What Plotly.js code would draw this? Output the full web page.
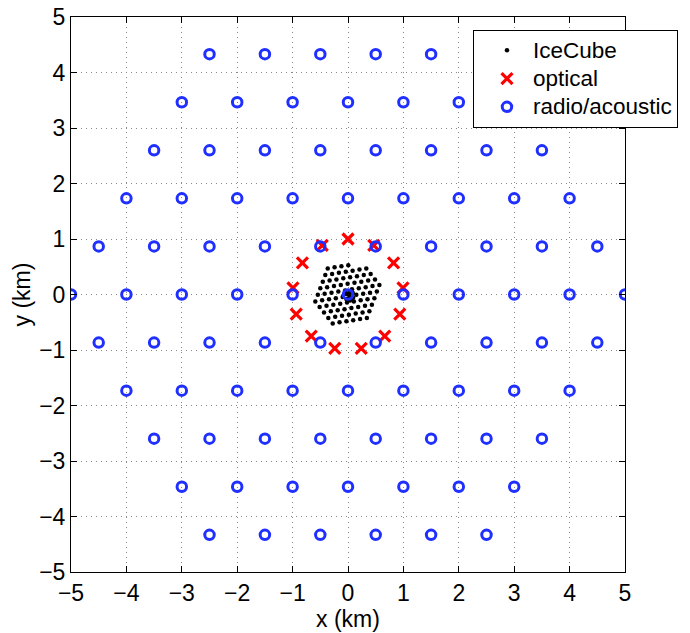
<!DOCTYPE html>
<html>
<head>
<meta charset="utf-8">
<script src="https://cdn.plot.ly/plotly-3.0.1.min.js"></script>
<style>html,body{margin:0;padding:0;background:#fff;}#chart{width:690px;height:633px;}</style>
</head>
<body>
<div id="chart"></div>
<script>
// IceCube string positions (km) (hexagonal array + DeepCore)
const iceX = [
 -0.276,-0.153,-0.029,0.094,0.218,0.341,
 -0.355,-0.231,-0.108,0.016,0.139,0.263,0.386,
 -0.433,-0.310,-0.186,-0.063,0.061,0.184,0.307,0.431,
 -0.512,-0.388,-0.265,-0.141,-0.018,0.106,0.229,0.352,0.476,
 -0.590,-0.467,-0.343,-0.220,-0.096,0.027,0.150,0.274,0.397,0.521,
 -0.545,-0.422,-0.298,-0.175,-0.052,0.072,0.195,0.319,0.442,0.566,
 -0.500,-0.377,-0.253,-0.130,-0.007,0.117,0.240,0.364,0.487,
 -0.455,-0.332,-0.209,-0.085,0.038,0.162,0.285,0.409,
 -0.410,-0.287,-0.164,-0.040,0.083,0.207,0.330,
 -0.366,-0.242,-0.119,0.005,
 0.011,0.052,0.022,0.087,0.093,0.037,-0.030,-0.031
];
const iceY = [
 -0.521,-0.501,-0.481,-0.462,-0.442,-0.422,
 -0.422,-0.402,-0.382,-0.363,-0.343,-0.323,-0.303,
 -0.323,-0.303,-0.283,-0.264,-0.244,-0.224,-0.204,-0.184,
 -0.224,-0.204,-0.184,-0.165,-0.145,-0.125,-0.105,-0.085,-0.066,
 -0.125,-0.105,-0.085,-0.066,-0.046,-0.026,-0.006,0.014,0.033,0.053,
 -0.006,0.014,0.033,0.053,0.073,0.093,0.113,0.132,0.152,0.172,
 0.113,0.132,0.152,0.172,0.192,0.212,0.231,0.251,0.271,
 0.231,0.251,0.271,0.291,0.311,0.330,0.350,0.370,
 0.350,0.370,0.390,0.410,0.429,0.449,0.469,
 0.469,0.489,0.509,0.528,
 -0.073,-0.067,0.035,0.027,-0.060,-0.106,-0.080,0.007
];

// optical stations (km): ring of 13 around IceCube
const opticalX = [0, 0.465, 0.823, 0.993, 0.935, 0.663, 0.239, -0.239, -0.663, -0.935, -0.993, -0.823, -0.465];
const opticalY = [1, 0.885, 0.568, 0.121, -0.355, -0.749, -0.971, -0.971, -0.749, -0.355, 0.121, 0.568, 0.885];

// radio/acoustic stations (km): hexagonal grid, 1 km spacing
const radioX = [
 -2.5,-1.5,-0.5,0.5,1.5,2.5,
 -3,-2,-1,0,1,2,3,
 -3.5,-2.5,-1.5,-0.5,0.5,1.5,2.5,3.5,
 -4,-3,-2,-1,0,1,2,3,4,
 -4.5,-3.5,-2.5,-1.5,-0.5,0.5,1.5,2.5,3.5,4.5,
 -5,-4,-3,-2,-1,0,1,2,3,4,5,
 -4.5,-3.5,-2.5,-1.5,-0.5,0.5,1.5,2.5,3.5,4.5,
 -4,-3,-2,-1,0,1,2,3,4,
 -3.5,-2.5,-1.5,-0.5,0.5,1.5,2.5,3.5,
 -3,-2,-1,0,1,2,3,
 -2.5,-1.5,-0.5,0.5,1.5,2.5
];
const radioY = [
 4.330,4.330,4.330,4.330,4.330,4.330,
 3.464,3.464,3.464,3.464,3.464,3.464,3.464,
 2.598,2.598,2.598,2.598,2.598,2.598,2.598,2.598,
 1.732,1.732,1.732,1.732,1.732,1.732,1.732,1.732,1.732,
 0.866,0.866,0.866,0.866,0.866,0.866,0.866,0.866,0.866,0.866,
 0,0,0,0,0,0,0,0,0,0,0,
 -0.866,-0.866,-0.866,-0.866,-0.866,-0.866,-0.866,-0.866,-0.866,-0.866,
 -1.732,-1.732,-1.732,-1.732,-1.732,-1.732,-1.732,-1.732,-1.732,
 -2.598,-2.598,-2.598,-2.598,-2.598,-2.598,-2.598,-2.598,
 -3.464,-3.464,-3.464,-3.464,-3.464,-3.464,-3.464,
 -4.330,-4.330,-4.330,-4.330,-4.330,-4.330
];

const tickVals = [-5,-4,-3,-2,-1,0,1,2,3,4,5];
const seriesNames = ['IceCube', 'optical', 'radio/acoustic'];

const FONT = 'Liberation Sans, Arial, Helvetica, sans-serif';
const FS = 23;
// legend rows are spaced by the legend font size; the label itself is drawn a bit larger
const legendLabel = (s) => '<span style="font-size:22.5px">' + s + '</span>';

const traces = [
  {x: iceX, y: iceY, name: legendLabel(seriesNames[0]), type: 'scatter', mode: 'markers',
   marker: {symbol: 'circle', size: 4.5, color: 'black'}},
  {x: opticalX, y: opticalY, name: legendLabel(seriesNames[1]), type: 'scatter', mode: 'markers',
   marker: {symbol: 'x-thin', size: 11, color: 'red', line: {color: 'red', width: 3.2}}},
  {x: radioX, y: radioY, name: legendLabel(seriesNames[2]), type: 'scatter', mode: 'markers',
   marker: {symbol: 'circle-open', size: 9.5, color: '#1f2fff', line: {color: '#1f2fff', width: 3}}}
];

function axis(title, standoff) {
  return {
    range: [-5, 5], tickmode: 'array', tickvals: tickVals,
    ticks: 'inside', ticklen: 6, tickwidth: 1, tickcolor: 'black',
    showline: true, linecolor: 'black', linewidth: 1, mirror: 'ticks',
    showgrid: true, gridcolor: '#8a8a8a', gridwidth: 1, griddash: '1px,4px',
    zeroline: false, fixedrange: true,
    tickfont: {family: FONT, size: FS, color: 'black'},
    title: {text: title, font: {family: FONT, size: FS, color: 'black'}, standoff: standoff},
    automargin: false
  };
}

const layout = {
  width: 690, height: 633,
  margin: {l: 71, r: 65, t: 17, b: 61},
  paper_bgcolor: 'white', plot_bgcolor: 'white',
  font: {family: FONT, color: 'black'},
  showlegend: true,
  xaxis: axis('x (km)', 0),
  yaxis: axis('y (km)', 2),
  legend: {
    x: 0.7256, y: 0.9766, xanchor: 'left', yanchor: 'top',
    bgcolor: 'white', bordercolor: 'black', borderwidth: 1,
    font: {family: FONT, size: 19.5, color: 'black'},
    itemwidth: 42, indentation: 7, tracegroupgap: 0
  }
};

Plotly.newPlot('chart', traces, layout, {displayModeBar: false, staticPlot: true});
</script>
</body>
</html>
